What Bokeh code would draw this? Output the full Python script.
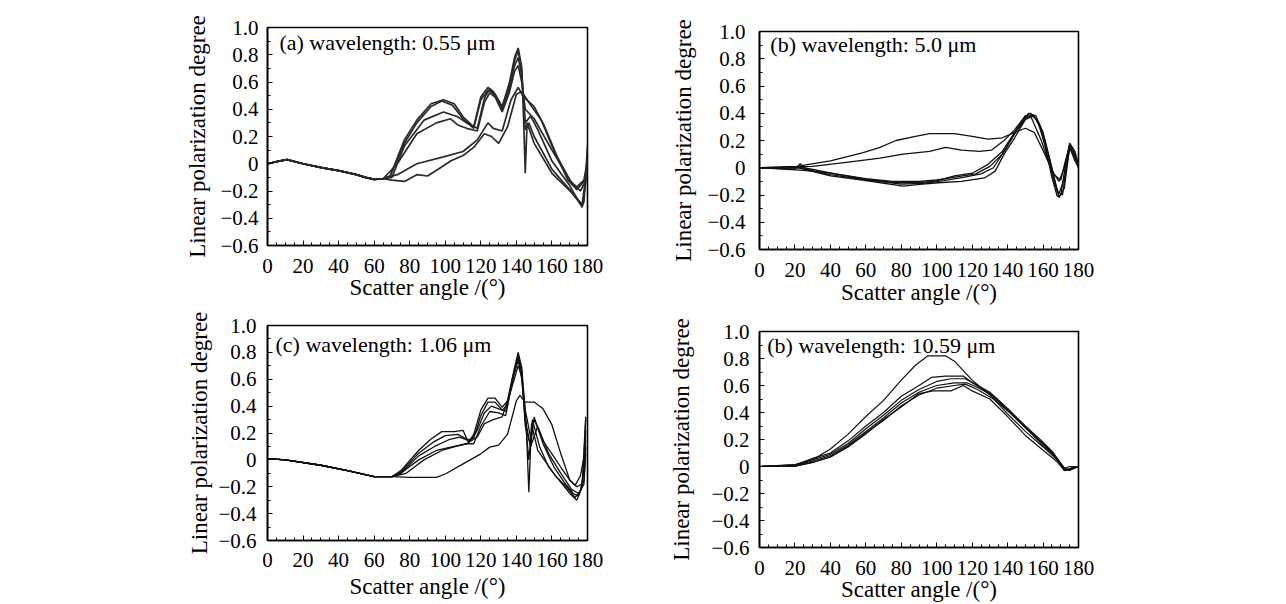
from bokeh.plotting import figure
from bokeh.layouts import column, row
from bokeh.models import Spacer, Label, FixedTicker
from bokeh.embed import file_html
from bokeh.resources import INLINE

# ---------------- data ----------------
X_TICKS = [0, 20, 40, 60, 80, 100, 120, 140, 160, 180]
Y_TICKS = [-0.6, -0.4, -0.2, 0, 0.2, 0.4, 0.6, 0.8, 1.0]
Y_LABELS = ["\u22120.6", "\u22120.4", "\u22120.2", "0", "0.2", "0.4", "0.6", "0.8", "1.0"]
X_LABEL = "Scatter angle /(\u00b0)"
Y_LABEL = "Linear polarization degree"
TITLES = ["(a) wavelength: 0.55 \u03bcm", "(b) wavelength: 5.0 \u03bcm",
          "(c) wavelength: 1.06 \u03bcm", "(b) wavelength: 10.59 \u03bcm"]

# common start of panel (a) curves
A0_X = [0, 5, 11, 20, 31, 40, 50, 55, 60, 65]
A0_Y = [0, 0.015, 0.03, 0.0, -0.03, -0.05, -0.08, -0.1, -0.115, -0.11]
# panel (a): 0.55 um
A1_X = A0_X + [69, 77, 84, 92, 99, 105, 110, 116, 120, 124, 127, 132, 136, 139, 141, 143, 144, 145, 146, 150, 160, 171, 177, 178, 180]
A1_Y = A0_Y + [-0.09, 0.175, 0.32, 0.44, 0.47, 0.44, 0.345, 0.27, 0.49, 0.56, 0.53, 0.42, 0.59, 0.78, 0.85, 0.71, 0.35, -0.07, 0.3, 0.15, -0.07, -0.21, -0.31, -0.28, 0.13]
A2_X = A0_X + [69, 77, 84, 92, 98, 104, 110, 116, 120, 124, 128, 132, 136, 139, 141, 143, 145, 147, 150, 160, 170, 177, 180]
A2_Y = A0_Y + [-0.09, 0.15, 0.3, 0.42, 0.46, 0.43, 0.33, 0.26, 0.47, 0.54, 0.51, 0.41, 0.57, 0.76, 0.83, 0.68, 0.25, 0.3, 0.2, -0.04, -0.19, -0.3, 0.0]
A3_X = A0_X + [70, 77, 88, 99, 107, 112, 118, 122, 125, 128, 132, 136, 139, 141, 143, 145, 148, 152, 160, 170, 177, 180]
A3_Y = A0_Y + [-0.1, 0.13, 0.32, 0.38, 0.345, 0.3, 0.26, 0.48, 0.55, 0.5, 0.4, 0.55, 0.72, 0.78, 0.65, 0.3, 0.35, 0.25, 0.02, -0.16, -0.32, -0.05]
A4_X = A0_X + [73, 84, 95, 103, 107, 112, 118, 122, 125, 128, 132, 136, 139, 141, 143, 145, 150, 160, 170, 176, 180]
A4_Y = A0_Y + [0.0, 0.22, 0.3, 0.33, 0.285, 0.26, 0.24, 0.45, 0.52, 0.49, 0.38, 0.52, 0.68, 0.72, 0.6, 0.4, 0.33, 0.1, -0.12, -0.2, -0.1]
A5_X = A0_X + [73, 84, 99, 110, 118, 124, 127, 132, 137, 141, 144, 150, 156, 163, 171, 174, 178, 180]
A5_Y = A0_Y + [-0.08, 0.0, 0.05, 0.09, 0.175, 0.3, 0.26, 0.24, 0.47, 0.56, 0.49, 0.42, 0.27, 0.05, -0.14, -0.17, -0.12, 0.03]
A6_X = A0_X + [70, 77, 84, 90, 96, 103, 110, 116, 122, 126, 130, 135, 140, 143, 146, 154, 161, 169, 174, 178, 180]
A6_Y = A0_Y + [-0.12, -0.13, -0.08, -0.09, -0.04, 0.02, 0.06, 0.12, 0.22, 0.2, 0.15, 0.27, 0.51, 0.53, 0.47, 0.32, 0.1, -0.12, -0.19, -0.13, -0.07]

# panel (b): 5.0 um
B1_X = [0, 21, 40, 58, 68, 77, 88, 96, 110, 120, 129, 137, 144, 150, 155, 161, 166, 170, 173, 175, 178, 180]
B1_Y = [0, 0.01, 0.05, 0.11, 0.15, 0.2, 0.23, 0.25, 0.25, 0.23, 0.21, 0.22, 0.26, 0.29, 0.26, 0.1, -0.05, -0.09, 0.07, 0.15, 0.05, 0.0]
B2_X = [0, 30, 49, 68, 81, 96, 105, 114, 124, 131, 138, 144, 150, 153, 159, 165, 169, 172, 175, 178, 180]
B2_Y = [0, 0.01, 0.04, 0.07, 0.1, 0.12, 0.15, 0.13, 0.12, 0.13, 0.2, 0.28, 0.38, 0.38, 0.2, -0.02, -0.1, 0.0, 0.17, 0.07, 0.02]
B3_X = [0, 20, 23, 26, 40, 58, 77, 88, 99, 110, 120, 129, 137, 144, 150, 153, 157, 161, 165, 168, 170, 173, 175, 178, 180]
B3_Y = [0, -0.01, 0.03, -0.01, -0.05, -0.085, -0.11, -0.11, -0.1, -0.06, -0.04, 0.025, 0.12, 0.26, 0.38, 0.4, 0.34, 0.17, -0.07, -0.21, -0.2, 0.05, 0.18, 0.12, 0.02]
B4_X = [0, 22, 40, 58, 81, 92, 101, 114, 127, 133, 138, 144, 150, 155, 160, 165, 169, 172, 175, 178, 180]
B4_Y = [0, 0.0, -0.06, -0.09, -0.135, -0.12, -0.11, -0.1, -0.075, -0.025, 0.1, 0.22, 0.355, 0.38, 0.25, 0.0, -0.22, -0.15, 0.15, 0.07, 0.02]
B5_X = [0, 25, 40, 60, 75, 90, 100, 112, 122, 130, 137, 145, 151, 154, 158, 162, 166, 169, 172, 175, 178, 180]
B5_Y = [0, -0.02, -0.04, -0.08, -0.1, -0.1, -0.09, -0.065, -0.045, 0.01, 0.1, 0.27, 0.37, 0.39, 0.32, 0.12, -0.1, -0.19, -0.08, 0.14, 0.1, 0.03]
B6_X = [0, 25, 45, 62, 80, 92, 104, 115, 125, 132, 139, 146, 152, 156, 160, 164, 168, 171, 174, 176, 180]
B6_Y = [0, 0.0, -0.05, -0.09, -0.12, -0.115, -0.095, -0.07, -0.045, 0.0, 0.14, 0.3, 0.4, 0.38, 0.26, 0.05, -0.18, -0.2, 0.1, 0.16, 0.03]

# panel (c): 1.06 um
C0_X = [0, 10, 30, 45, 60, 70]
C0_Y = [0.01, 0.0, -0.04, -0.08, -0.125, -0.125]
C1_X = C0_X + [80, 95, 100, 110, 120, 125, 130, 135, 140, 142, 145, 150, 155, 160, 165, 170, 173, 176, 178, 179]
C1_Y = C0_Y + [-0.13, -0.13, -0.105, -0.03, 0.045, 0.095, 0.11, 0.19, 0.44, 0.48, 0.43, 0.43, 0.38, 0.26, 0.045, -0.15, -0.19, -0.12, 0.02, 0.3]
C2_X = C0_X + [75, 85, 95, 105, 112, 118, 122, 127, 132, 137, 141, 143, 145, 148, 150, 155, 160, 165, 170, 174, 177, 179]
C2_Y = C0_Y + [-0.1, 0.0, 0.07, 0.1, 0.12, 0.17, 0.27, 0.3, 0.32, 0.52, 0.7, 0.62, 0.37, 0.17, 0.3, 0.14, 0.045, -0.055, -0.15, -0.2, -0.18, 0.32]
C3_X = C0_X + [75, 85, 92, 98, 105, 110, 113, 116, 120, 124, 128, 132, 135, 139, 141, 143, 145.5, 147, 148.5, 152, 156, 162, 168, 173, 176, 178, 179]
C3_Y = C0_Y + [-0.08, 0.07, 0.155, 0.21, 0.21, 0.22, 0.13, 0.19, 0.37, 0.46, 0.46, 0.39, 0.44, 0.69, 0.8, 0.69, 0.27, -0.24, 0.27, 0.07, -0.005, -0.12, -0.2, -0.28, -0.23, -0.08, 0.22]
C4_X = C0_X + [75, 85, 93, 100, 107, 113, 116, 120, 124, 128, 132, 135, 139, 141, 143, 145, 147, 149, 153, 158, 164, 170, 174, 177, 179]
C4_Y = C0_Y + [-0.09, 0.05, 0.13, 0.18, 0.19, 0.15, 0.16, 0.33, 0.43, 0.43, 0.37, 0.41, 0.66, 0.78, 0.66, 0.3, 0.0, 0.3, 0.1, -0.05, -0.15, -0.25, -0.3, -0.2, 0.15]
C5_X = C0_X + [75, 85, 94, 102, 108, 114, 118, 122, 126, 130, 134, 138, 141, 143, 145, 148, 150, 155, 161, 167, 172, 175, 178, 179]
C5_Y = C0_Y + [-0.1, 0.03, 0.1, 0.15, 0.17, 0.14, 0.22, 0.35, 0.4, 0.38, 0.36, 0.62, 0.76, 0.65, 0.25, 0.1, 0.32, 0.12, -0.05, -0.17, -0.25, -0.27, -0.15, 0.1]
C6_X = C0_X + [78, 88, 98, 106, 112, 116, 120, 125, 130, 134, 138, 141, 143, 145, 148, 152, 158, 165, 171, 175, 178, 179]
C6_Y = C0_Y + [-0.1, 0.0, 0.07, 0.1, 0.12, 0.12, 0.25, 0.36, 0.35, 0.33, 0.6, 0.74, 0.6, 0.3, 0.1, 0.25, 0.05, -0.1, -0.22, -0.25, -0.18, 0.05]

# panel (d): 10.59 um
D1_X = [0, 20, 30, 40, 50, 60, 70, 80, 88, 95, 105, 110, 115, 120, 130, 140, 150, 160, 168, 172, 175, 180]
D1_Y = [0, 0.01, 0.05, 0.13, 0.24, 0.37, 0.49, 0.64, 0.75, 0.82, 0.82, 0.78, 0.71, 0.64, 0.53, 0.39, 0.26, 0.145, 0.05, -0.015, 0.0, 0.0]
D2_X = [0, 20, 30, 40, 50, 60, 70, 80, 90, 97, 105, 115, 120, 130, 140, 150, 160, 165, 170, 173, 176, 180]
D2_Y = [0, 0.01, 0.06, 0.1, 0.19, 0.3, 0.4, 0.52, 0.6, 0.66, 0.67, 0.67, 0.62, 0.54, 0.415, 0.29, 0.17, 0.11, 0.01, -0.03, -0.01, 0.0]
D3_X = [0, 20, 30, 40, 50, 60, 70, 80, 90, 100, 108, 116, 122, 130, 140, 150, 160, 166, 171, 174, 177, 180]
D3_Y = [0, 0.015, 0.05, 0.09, 0.17, 0.28, 0.38, 0.49, 0.57, 0.63, 0.65, 0.65, 0.61, 0.55, 0.43, 0.3, 0.18, 0.1, 0.0, -0.03, -0.01, 0.0]
D4_X = [0, 20, 30, 40, 50, 60, 70, 80, 90, 100, 110, 117, 124, 132, 142, 152, 162, 168, 172, 175, 180]
D4_Y = [0, 0.01, 0.04, 0.08, 0.16, 0.26, 0.36, 0.47, 0.55, 0.6, 0.62, 0.62, 0.58, 0.52, 0.4, 0.27, 0.14, 0.06, -0.01, -0.03, 0.0]
D5_X = [0, 20, 30, 40, 50, 60, 70, 80, 90, 100, 110, 116, 123, 132, 142, 152, 162, 168, 172, 176, 180]
D5_Y = [0, 0.005, 0.03, 0.07, 0.15, 0.25, 0.34, 0.45, 0.53, 0.58, 0.6, 0.61, 0.57, 0.5, 0.39, 0.26, 0.13, 0.05, -0.02, -0.02, 0.0]
D6_X = [0, 20, 30, 40, 50, 60, 70, 80, 90, 98, 108, 115, 120, 130, 140, 150, 160, 168, 172, 175, 180]
D6_Y = [0, 0.0, 0.03, 0.07, 0.145, 0.24, 0.35, 0.44, 0.54, 0.56, 0.56, 0.6, 0.56, 0.5, 0.37, 0.23, 0.12, 0.035, -0.03, -0.02, 0.0]

PANEL_A = [(A1_X, A1_Y), (A2_X, A2_Y), (A3_X, A3_Y), (A4_X, A4_Y), (A5_X, A5_Y), (A6_X, A6_Y)]
PANEL_B = [(B1_X, B1_Y), (B2_X, B2_Y), (B3_X, B3_Y), (B4_X, B4_Y), (B5_X, B5_Y), (B6_X, B6_Y)]
PANEL_C = [(C1_X, C1_Y), (C2_X, C2_Y), (C3_X, C3_Y), (C4_X, C4_Y), (C5_X, C5_Y), (C6_X, C6_Y)]
PANEL_D = [(D1_X, D1_Y), (D2_X, D2_Y), (D3_X, D3_Y), (D4_X, D4_Y), (D5_X, D5_Y), (D6_X, D6_Y)]

FONT = "Liberation Serif"


def make_panel(curves, title, tpos, width, height, borders, ystand, xstand, lw, lc):
    bl, br, bt, bb = borders
    p = figure(width=width, height=height, x_range=(0, 180), y_range=(-0.6, 1.0),
               output_backend="svg", toolbar_location=None,
               min_border_left=bl, min_border_right=br, min_border_top=bt, min_border_bottom=bb)
    p.background_fill_color = "white"
    p.border_fill_color = "white"
    p.outline_line_color = "black"
    p.outline_line_width = 1.6
    p.grid.visible = False
    for xs, ys in curves:
        p.line(xs, ys, line_color=lc, line_width=lw)
    p.xaxis.ticker = FixedTicker(ticks=X_TICKS, minor_ticks=list(range(0, 181, 5)))
    p.yaxis.ticker = FixedTicker(ticks=Y_TICKS, minor_ticks=[round(-0.6 + 0.1 * i, 2) for i in range(17)])
    p.yaxis.major_label_overrides = {t: l for t, l in zip(Y_TICKS, Y_LABELS)}
    p.xaxis.major_label_overrides = {t: str(t) for t in X_TICKS}
    for ax in (p.xaxis, p.yaxis):
        ax.axis_line_color = "black"
        ax.axis_line_width = 1.6
        ax.major_tick_in = 5
        ax.major_tick_out = 0
        ax.minor_tick_in = 3
        ax.minor_tick_out = 0
        ax.major_tick_line_color = "black"
        ax.minor_tick_line_color = "black"
        ax.major_label_text_font = FONT
        ax.major_label_text_font_size = "21px"
        ax.major_label_text_color = "black"
        ax.axis_label_text_font = FONT
        ax.axis_label_text_font_size = "23px"
        ax.axis_label_text_font_style = "normal"
        ax.axis_label_text_color = "black"
    p.xaxis.axis_label = X_LABEL
    p.yaxis.axis_label = Y_LABEL
    p.yaxis.major_label_standoff = ystand[0]
    p.yaxis.axis_label_standoff = ystand[1]
    p.xaxis.major_label_standoff = xstand[0]
    p.xaxis.axis_label_standoff = xstand[1]
    p.add_layout(Label(x=tpos[0], y=tpos[1], text=title, text_font=FONT, text_font_size="22px",
                       text_baseline="middle", text_color="black"))
    return p


# borders: left, right, top, bottom
pa = make_panel(PANEL_A, TITLES[0], (6.7, 0.89), 470, 303, (87, 62, 27, 58), (9, 7), (13, -1), 1.7, "#2a2a2a")
pc = make_panel(PANEL_C, TITLES[2], (4.5, 0.86), 470, 301, (84, 63, 22, 64), (11, 3), (12, 4), 1.3, "#111111")
pb = make_panel(PANEL_B, TITLES[1], (6.1, 0.905), 448, 309, (106, 20, 31, 60), (14, 8), (13, 0), 1.3, "#111111")
pd = make_panel(PANEL_D, TITLES[3], (4.4, 0.9), 448, 295, (109, 14, 22, 56), (10, 14), (13, -1), 1.2, "#111111")

layout = row(Spacer(width=180, height=10), column(pa, pc), column(pb, pd))

open("out.html", "w").write(file_html(layout, INLINE))
